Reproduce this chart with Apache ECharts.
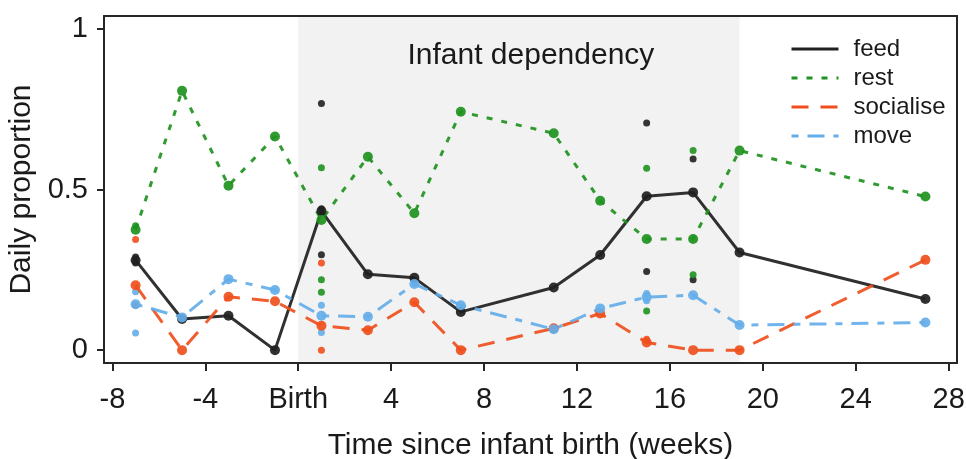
<!DOCTYPE html>
<html>
<head>
<meta charset="utf-8">
<script src="https://cdn.jsdelivr.net/npm/echarts@6/dist/echarts.min.js"></script>
<style>
  html, body { margin: 0; padding: 0; background: #fff; }
  #chart { width: 966px; height: 459px; }
</style>
</head>
<body>
<div id="chart"></div>
<script>
// weeks relative to infant birth
var weeks = [-7, -5, -3, -1, 1, 3, 5, 7, 11, 13, 15, 17, 19, 27]
var xTicks = [-8, -4, 0, 4, 8, 12, 16, 20, 24, 28]
var yTicks = [0, 0.5, 1]

// weekly values (line points)
var feed = [0.28, 0.097, 0.107, 0, 0.433, 0.236, 0.225, 0.119, 0.195, 0.296, 0.479, 0.491, 0.304, 0.159]
var rest = [0.375, 0.807, 0.512, 0.665, 0.405, 0.602, 0.426, 0.742, 0.675, 0.465, 0.346, 0.346, 0.621, 0.478]
var socialise = [0.202, 0, 0.166, 0.152, 0.076, 0.062, 0.149, 0, 0.068, 0.114, 0.024, 0, 0, 0.281]
var move = [0.143, 0.102, 0.221, 0.187, 0.107, 0.104, 0.206, 0.14, 0.065, 0.13, 0.165, 0.171, 0.078, 0.086]

// single days [week, value]
var feedDays = [[-7, 0.29], [-7, 0.271], [1, 0.768], [1, 0.44], [1, 0.297], [15, 0.707], [15, 0.245], [17, 0.595], [17, 0.219]]
var restDays = [[-7, 0.387], [1, 0.568], [1, 0.219], [1, 0.18], [15, 0.566], [15, 0.122], [17, 0.621], [17, 0.235]]
var socialiseDays = [[-7, 0.344], [-7, 0.14], [1, 0.271], [1, 0], [15, 0.034]]
var moveDays = [[-7, 0.182], [-7, 0.053], [1, 0.14], [1, 0.055], [15, 0.176], [15, 0.154]]

var dependency = [0, 19]

var font = "'Liberation Sans', Arial, Helvetica, sans-serif"
var ink = '#1a1a1a'

var cFeed = '#202020'
var cRest = '#1f921f'
var cSoc = '#ef4f1c'
var cMove = '#64aee9'

var dashRest = [6, 9]
var dashSoc = [17, 12]
var dashMove = [7, 9, 17, 9]

function pairs(ys) {
  return weeks.map(function (w, i) { return [w, ys[i]] })
}

function lineSeries(name, ys, color, type) {
  return {
    name: name,
    type: 'line',
    data: pairs(ys),
    symbol: 'circle',
    symbolSize: 10,
    z: 4,
    itemStyle: { color: color, opacity: 0.92 },
    lineStyle: { color: color, width: 3, type: type, opacity: 0.92 }
  }
}

function daySeries(name, pts, color) {
  return {
    name: name + ' days',
    type: 'scatter',
    data: pts,
    symbol: 'circle',
    symbolSize: 7,
    z: 3,
    itemStyle: { color: color, opacity: 0.9 }
  }
}

function legendItem(name, color, type) {
  return { name: name, lineStyle: { color: color, width: 3, type: type, opacity: 1 } }
}

var frame = { show: true, onZero: false, lineStyle: { color: '#262626', width: 2 } }

var chart = echarts.init(document.getElementById('chart'))

var feedLine = lineSeries('feed', feed, cFeed, 'solid')
// shaded infant dependency period
feedLine.markArea = {
  silent: true,
  itemStyle: { color: '#f2f2f2' },
  label: {
    show: true,
    position: 'insideTop',
    distance: 25,
    offset: [12, 0],
    formatter: 'Infant dependency',
    fontFamily: font,
    fontSize: 30,
    color: ink
  },
  data: [[{ xAxis: dependency[0] }, { xAxis: dependency[1] }]]
}

chart.setOption({
  animation: false,
  backgroundColor: '#fff',
  textStyle: { fontFamily: font },
  grid: { left: 104, right: 9, top: 16, bottom: 96, containLabel: false, outerBoundsMode: 'none' },
  legend: {
    data: [
      legendItem('feed', cFeed, 'solid'),
      legendItem('rest', cRest, dashRest),
      legendItem('socialise', cSoc, dashSoc),
      legendItem('move', cMove, dashMove)
    ],
    orient: 'vertical',
    left: 785,
    top: 32,
    itemWidth: 47,
    itemHeight: 14,
    itemGap: 5,
    itemStyle: { opacity: 0 },
    textStyle: { fontFamily: font, fontSize: 24, color: ink, padding: [0, 0, 0, 10] }
  },
  xAxis: [{
    type: 'value',
    min: -8.36,
    max: 28.36,
    z: 10,
    name: 'Time since infant birth (weeks)',
    nameLocation: 'middle',
    nameGap: 68,
    nameTextStyle: { fontFamily: font, fontSize: 30, color: ink },
    axisLine: frame,
    axisTick: { show: true, length: 8, customValues: xTicks, lineStyle: { color: '#262626', width: 2 } },
    axisLabel: {
      customValues: xTicks,
      margin: 22,
      fontFamily: font,
      fontSize: 29,
      color: ink,
      formatter: function (v) { return v === 0 ? 'Birth' : String(v) }
    },
    splitLine: { show: false }
  }, {
    type: 'value',
    position: 'top',
    min: -8.36,
    max: 28.36,
    z: 10,
    axisLine: frame,
    axisTick: { show: false },
    axisLabel: { show: false },
    splitLine: { show: false }
  }],
  yAxis: [{
    type: 'value',
    min: -0.04,
    max: 1.04,
    z: 10,
    name: 'Daily proportion',
    nameLocation: 'middle',
    nameGap: 56,
    nameTextStyle: { fontFamily: font, fontSize: 30, color: ink },
    axisLine: frame,
    axisTick: { show: true, length: 7, customValues: yTicks, lineStyle: { color: '#262626', width: 2 } },
    axisLabel: { customValues: yTicks, margin: 16, fontFamily: font, fontSize: 29, color: ink },
    splitLine: { show: false }
  }, {
    type: 'value',
    position: 'right',
    min: -0.04,
    max: 1.04,
    z: 10,
    axisLine: frame,
    axisTick: { show: false },
    axisLabel: { show: false },
    splitLine: { show: false }
  }],
  series: [
    daySeries('feed', feedDays, cFeed),
    daySeries('rest', restDays, cRest),
    daySeries('socialise', socialiseDays, cSoc),
    daySeries('move', moveDays, cMove),
    feedLine,
    lineSeries('rest', rest, cRest, dashRest),
    lineSeries('socialise', socialise, cSoc, dashSoc),
    lineSeries('move', move, cMove, dashMove)
  ]
})
</script>
</body>
</html>
